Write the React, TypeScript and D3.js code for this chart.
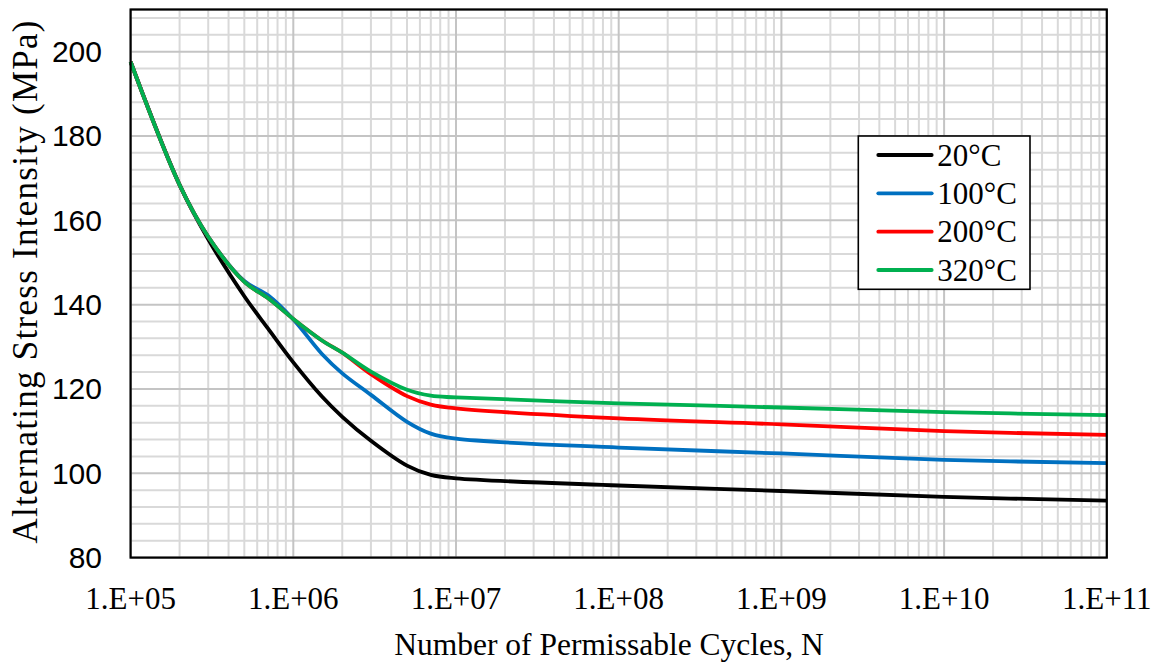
import React from 'react'
import * as d3 from 'd3'

// cycles N (x, log scale)
const cycles = [1e5, 2e5, 3e5, 5e5, 7e5, 1e6, 1.5e6, 2e6, 3e6, 5e6, 7e6, 1e7, 1e8, 1e9, 1e10, 1e11]

// alternating stress intensity (MPa)
const s20 = [197.6, 168.4, 155.5, 142, 134.3, 126.3, 118.2, 113.4, 107.7, 101.8, 99.6, 98.8, 97.1, 95.8, 94.4, 93.5]
const s100 = [197.6, 168.4, 156.1, 145.6, 142.2, 136.5, 128.3, 123.7, 118.6, 112.2, 109.4, 108.2, 106.1, 104.7, 103.2, 102.4]
const s200 = [197.6, 168.4, 156.1, 145.4, 141.5, 136.6, 131.5, 128.6, 123.5, 118.3, 116.3, 115.4, 113.0, 111.6, 110.0, 109.1]
const s320 = [197.6, 168.4, 156.1, 145.4, 141.5, 136.6, 131.5, 128.6, 124.1, 119.8, 118.4, 118.0, 116.6, 115.6, 114.5, 113.8]

const seriesNames = ['20°C', '100°C', '200°C', '320°C']
const seriesColors = ['#000000', '#0070C0', '#FF0000', '#00B050']
const seriesValues = [s20, s100, s200, s320]

const xTicks = [1e5, 1e6, 1e7, 1e8, 1e9, 1e10, 1e11]
const xTickLabels = ['1.E+05', '1.E+06', '1.E+07', '1.E+08', '1.E+09', '1.E+10', '1.E+11']
const yTicks = [80, 100, 120, 140, 160, 180, 200]
const yMin = 80
const yMax = 210

export default function App() {
    const W = 1161, H = 662
    const margin = {left: 130.6, right: 1106.8, top: 9.5, bottom: 557.6}

    const x = d3.scaleLog().domain([1e5, 1e11]).range([margin.left, margin.right])
    const y = d3.scaleLinear().domain([yMin, yMax]).range([margin.bottom, margin.top])

    // minor gridlines
    const xMinor: number[] = []
    for (let d = 5; d < 11; d++) {
        for (let k = 2; k <= 9; k++) xMinor.push(k * Math.pow(10, d))
    }
    const yMinor: number[] = []
    for (let v = yMin + 4; v < yMax; v += 4) if ((v - yMin) % 20 !== 0) yMinor.push(v)

    const line = d3.line<number>()
        .x((d, i) => x(cycles[i]))
        .y(d => y(d))
        .curve(d3.curveCatmullRom.alpha(0.5))

    const serif = '"Liberation Serif", "Times New Roman", serif'
    const sans = '"Liberation Sans", Arial, sans-serif'

    // legend
    const lg = {x: 858.3, y: 136, w: 171.7, h: 153.3}
    const rowY = [155, 193.3, 231.7, 270]

    return (
        <div style={{position: 'absolute', left: 0, top: 0}}>
            <svg width={W} height={H} style={{display: 'block', background: '#fff'}}>
                {/* minor grid */}
                {yMinor.map(v => (
                    <line key={'ym' + v} x1={margin.left} x2={margin.right} y1={y(v)} y2={y(v)} stroke="#d9d9d9" strokeWidth={2} />
                ))}
                {xMinor.map(v => (
                    <line key={'xm' + v} x1={x(v)} x2={x(v)} y1={margin.top} y2={margin.bottom} stroke="#d9d9d9" strokeWidth={2} />
                ))}
                {/* major grid */}
                {yTicks.concat([yMax]).map(v => (
                    <line key={'yM' + v} x1={margin.left} x2={margin.right} y1={y(v)} y2={y(v)} stroke="#c4c4c4" strokeWidth={2} />
                ))}
                {xTicks.map(v => (
                    <line key={'xM' + v} x1={x(v)} x2={x(v)} y1={margin.top} y2={margin.bottom} stroke="#c4c4c4" strokeWidth={2} />
                ))}

                {/* series */}
                {seriesValues.map((vals, i) => (
                    <path key={seriesNames[i]} d={line(vals) || ''} fill="none" stroke={seriesColors[i]} strokeWidth={3.8} strokeLinejoin="round" />
                ))}

                {/* plot border */}
                <rect x={margin.left} y={margin.top} width={margin.right - margin.left} height={margin.bottom - margin.top} fill="none" stroke="#000" strokeWidth={2.2} />

                {/* y tick labels */}
                {yTicks.map(v => (
                    <text key={'yt' + v} x={102} y={y(v)} dy="0.35em" textAnchor="end" fontFamily={sans} fontSize={30} fill="#000">{v}</text>
                ))}
                {/* x tick labels */}
                {xTicks.map((v, i) => (
                    <text key={'xt' + v} x={x(v)} y={609} textAnchor="middle" fontFamily={serif} fontSize={31} fill="#000">{xTickLabels[i]}</text>
                ))}

                {/* axis titles */}
                <text x={609} y={655} textAnchor="middle" fontFamily={serif} fontSize={31.5} fill="#000">Number of Permissable Cycles, N</text>
                <text transform={`translate(37,282) rotate(-90)`} textAnchor="middle" fontFamily={serif} fontSize={35} textLength={523} lengthAdjust="spacing" fill="#000">Alternating Stress Intensity (MPa)</text>

                {/* legend */}
                <rect x={lg.x} y={lg.y} width={lg.w} height={lg.h} fill="#fff" stroke="#000" strokeWidth={1.6} />
                {seriesNames.map((name, i) => (
                    <g key={'lg' + name}>
                        <line x1={878.3} x2={931.7} y1={rowY[i]} y2={rowY[i]} stroke={seriesColors[i]} strokeWidth={3.8} strokeLinecap="round" />
                        <text x={937.3} y={rowY[i]} dy="0.34em" fontFamily={serif} fontSize={31} fill="#000">{name}</text>
                    </g>
                ))}
            </svg>
        </div>
    )
}
